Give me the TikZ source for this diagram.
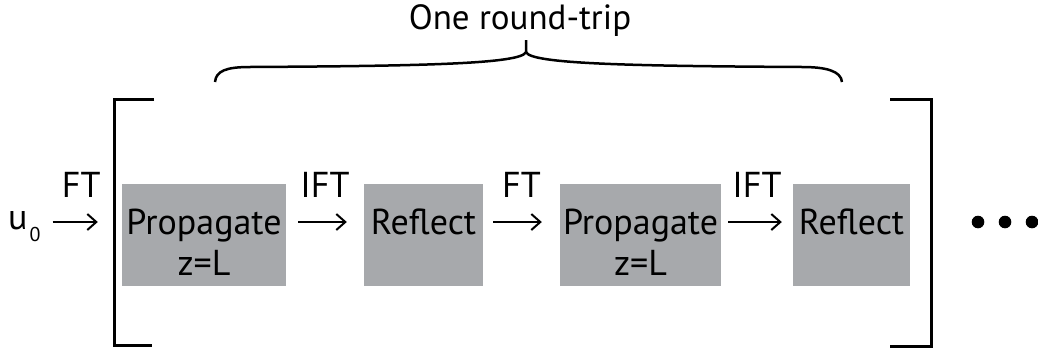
\documentclass[tikz,border=0pt]{standalone}
\usepackage{fontspec}
\setmainfont{PT Sans}
\usetikzlibrary{arrows.meta}
\definecolor{boxgray}{RGB}{167,169,172}
\begin{document}
\begin{tikzpicture}[x=1pt, y=-1pt,
        blk/.style={fill=boxgray, minimum width=#1, minimum height=102pt, inner sep=0pt},
        txt/.style={inner sep=0pt, font=\fontsize{36}{42}\selectfont},
        flow/.style={line width=2pt, -{Straight Barb[length=9pt, width=16pt, line width=2pt]}},
        lbl/.style={txt, anchor=base, yshift=25pt}]
    \useasboundingbox (0,0) rectangle (1038,351);
    % the four steps
    \node[blk=164pt] (prop1) at (204,235) {};
    \node[blk=119pt] (refl1) at (423.5,235) {};
    \node[blk=161pt] (prop2) at (640.5,235) {};
    \node[blk=117pt] (refl2) at (851.5,235) {};
    \node[txt, anchor=base] (prop1a) at ([yshift=1pt]prop1.center) {Propagate};
    \node[txt, anchor=base] (prop1b) at ([yshift=-41pt]prop1a.base) {z=L};
    \node[txt, anchor=base] (refl1a) at ([yshift=1pt]refl1.center) {Reflect};
    \node[txt, anchor=base] (prop2a) at ([yshift=1pt]prop2.center) {Propagate};
    \node[txt, anchor=base] (prop2b) at ([yshift=-41pt]prop2a.base) {z=L};
    \node[txt, anchor=base] (refl2a) at ([yshift=1pt]refl2.center) {Reflect};
    % input and transforms
    \node[txt, anchor=base west] (u0) at (8,229)
        {u\hspace{2pt}\raisebox{-12pt}{\fontsize{20}{20}\selectfont 0}};
    \coordinate (lvl) at ([yshift=13pt]prop1.west);
    \draw[flow, shorten <=12pt, shorten >=24pt] (u0.east |- lvl) -- (lvl)
        node[lbl, midway] (ft0) {FT};
    \draw[flow, shorten <=12pt, shorten >=17pt]
        ([yshift=13pt]prop1.east) -- ([yshift=13pt]refl1.west)
        node[lbl, midway] (ift1) {IFT};
    \draw[flow, shorten <=10pt, shorten >=18pt]
        ([yshift=13pt]refl1.east) -- ([yshift=13pt]prop2.west)
        node[lbl, midway] (ft1) {FT};
    \draw[flow, shorten <=7pt, shorten >=11pt]
        ([yshift=13pt]prop2.east) -- ([yshift=13pt]refl2.west)
        node[lbl, midway] (ift2) {IFT};
    % brackets
    \draw[line width=3pt] (154,99) -- (114,99) -- (114,345) -- (152,345);
    \draw[line width=3pt] (890,99) -- (931,99) -- (931,346) -- (890,346);
    \foreach \x in {978,1005,1032}
        \fill (\x,222) circle (6.3pt);
    % brace
    \draw[line width=2.5pt]
        (215,82) .. controls (216,71) and (226,67) .. (250,67)
        .. controls (420,66) and (522,64) .. (526,52) -- (526,40);
    \draw[line width=2.5pt]
        (526,52) .. controls (530,64) and (632,66) .. (802,67)
        .. controls (826,67) and (841,71) .. (842,82);
    \node[txt, anchor=base, font=\fontsize{35}{40}\selectfont] (trip) at (520,29) {One round-trip};
\end{tikzpicture}
\end{document}
